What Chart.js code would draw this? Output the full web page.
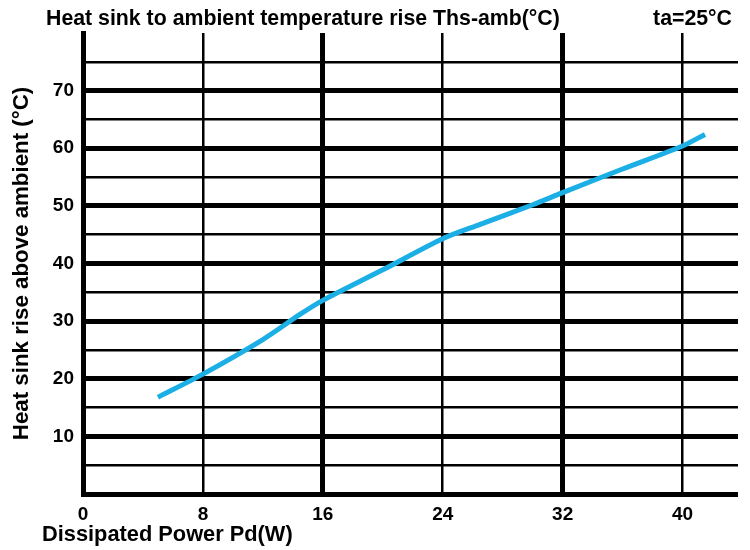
<!DOCTYPE html>
<html>
<head>
<meta charset="utf-8">
<script src="https://cdn.jsdelivr.net/npm/chart.js@4"></script>
<style>
  html, body { margin: 0; padding: 0; background: #fff; }
  #wrap { width: 750px; height: 550px; }
</style>
</head>
<body>
<div id="wrap"><canvas id="chart" width="750" height="550"></canvas></div>
<script>
// Heat sink curve
const powerW = [5, 8, 12, 14.5, 16, 20, 24, 26.5, 30, 32, 36, 40, 41.5];
const tempRise = [16.8, 20.8, 26.8, 31.2, 33.6, 38.9, 44.3, 46.8, 50.2, 52.3, 56.4, 60.4, 62.4];
const xTicks = [0, 8, 16, 24, 32, 40];
const yTicks = [0, 5, 10, 15, 20, 25, 30, 35, 40, 45, 50, 55, 60, 65, 70, 75, 80];
const yLabelled = [10, 20, 30, 40, 50, 60, 70];

const FONT = '"Liberation Sans", Arial, sans-serif';
const titleText = "Heat sink to ambient temperature rise Ths-amb(°C)";
const condText = "ta=25°C";
const xTitleText = "Dissipated Power Pd(W)";

// extra texts that sit outside the usual title slots
const textPlugin = {
    id: "texts",
    afterDraw(chart) {
        const ctx = chart.ctx;
        ctx.save();
        ctx.fillStyle = "#000";
        ctx.textBaseline = "alphabetic";
        ctx.font = "bold 21.3px " + FONT;
        ctx.textAlign = "left";
        ctx.fillText(titleText, 46, 25);
        ctx.textAlign = "right";
        ctx.fillText(condText, 732, 25);
        ctx.font = "bold 21.8px " + FONT;
        ctx.textAlign = "left";
        ctx.fillText(xTitleText, 42, 541);
        ctx.restore();
    }
};

new Chart(document.getElementById("chart"), {
    type: "line",
    data: {
        datasets: [{
            data: powerW.map((x, i) => ({ x, y: tempRise[i] })),
            borderColor: "#1bafe6",
            borderWidth: 5,
            pointRadius: 0,
            tension: 0.3,
            fill: false,
        }]
    },
    options: {
        responsive: false,
        animation: false,
        layout: { padding: { left: 8, right: 12, top: 33, bottom: 0 } },
        plugins: { legend: { display: false }, tooltip: { enabled: false } },
        scales: {
            x: {
                type: "linear",
                min: 0,
                max: 43.7,
                afterBuildTicks: (s) => { s.ticks = xTicks.map(v => ({ value: v })); },
                afterFit: (s) => { s.height = 56; },
                border: { display: true, color: "#000", width: 5 },
                grid: {
                    color: "#000",
                    drawTicks: false,
                    lineWidth: (c) => {
                        const v = c.tick ? c.tick.value : 0;
                        if (v === 0) return 0;
                        return v % 16 === 0 ? 5 : 2.5;
                    }
                },
                ticks: {
                    color: "#000",
                    padding: 9,
                    font: { family: FONT, size: 19, weight: "bold" },
                }
            },
            y: {
                min: 0,
                max: 80,
                afterBuildTicks: (s) => { s.ticks = yTicks.map(v => ({ value: v })); },
                afterFit: (s) => { s.width = 75; },
                border: { display: true, color: "#000", width: 5 },
                grid: {
                    color: "#000",
                    drawTicks: false,
                    lineWidth: (c) => {
                        const v = c.tick ? c.tick.value : 0;
                        if (v === 0 || v === 80) return 0;
                        return v % 10 === 0 ? 5 : 2.5;
                    }
                },
                ticks: {
                    color: "#000",
                    padding: 9,
                    font: { family: FONT, size: 19, weight: "bold" },
                    callback: (v) => yLabelled.includes(v) ? String(v) : ""
                },
                title: {
                    display: true,
                    text: "Heat sink rise above ambient (°C)",
                    color: "#000",
                    padding: 0,
                    font: { family: FONT, size: 22.3, weight: "bold" }
                }
            }
        }
    },
    plugins: [textPlugin]
});
</script>
</body>
</html>
